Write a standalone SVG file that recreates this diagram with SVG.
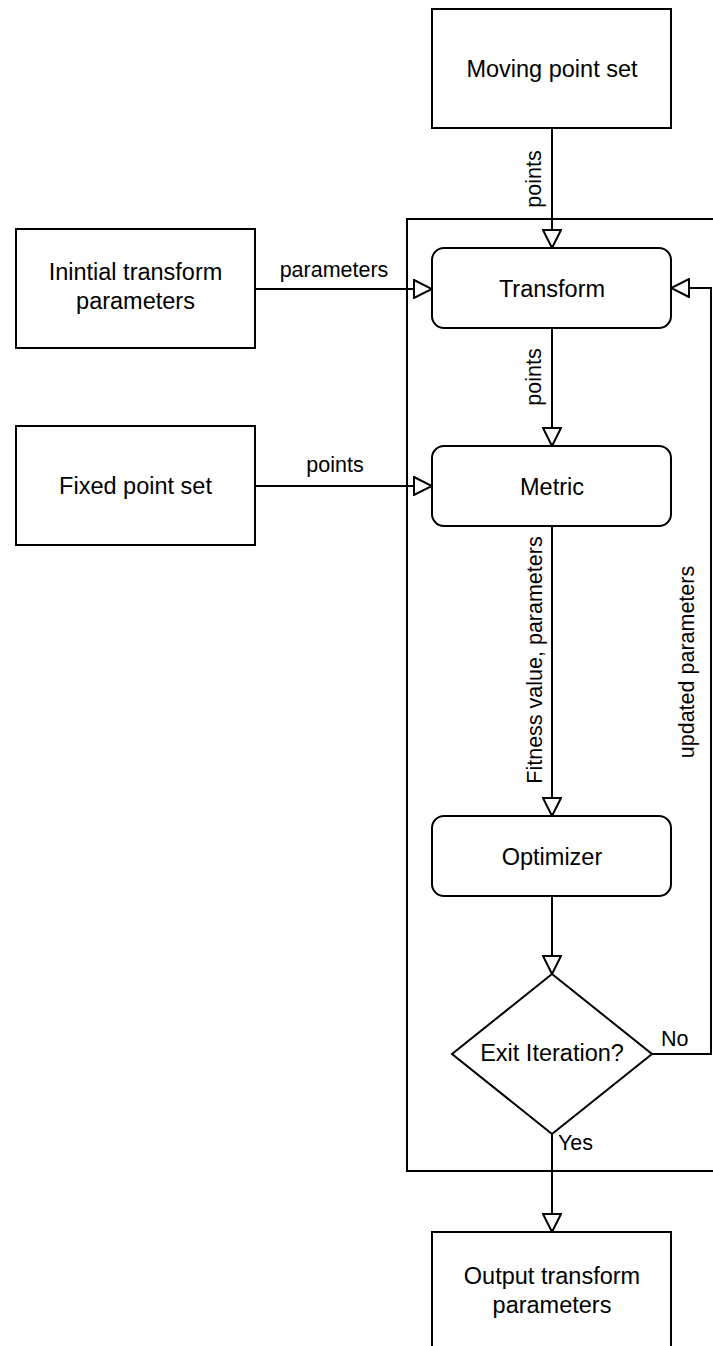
<svg xmlns="http://www.w3.org/2000/svg" width="713" height="1346" viewBox="0 0 713 1346">
<style>
.box{fill:#fff;stroke:#000;stroke-width:2}
.frame{fill:none;stroke:#000;stroke-width:2}
.edge{fill:none;stroke:#000;stroke-width:2;marker-end:url(#arr)}
text{font-family:"Liberation Sans",Arial,sans-serif;font-size:21.5px;fill:#000}
.n{font-size:23.5px}
.c{text-anchor:middle}
</style>
<defs>
<marker id="arr" viewBox="0 0 20 20" refX="19" refY="10" markerWidth="20" markerHeight="20" orient="auto" markerUnits="userSpaceOnUse">
<path d="M1,1 L19,10 L1,19 Z" fill="#fff" stroke="#000" stroke-width="2"/>
</marker>
</defs>
<rect id="loop-frame" class="frame" x="407" y="219" width="330" height="952"/>
<g id="connectors">
<path class="edge" d="M552,128 V248"/>
<path class="edge" d="M255,289 H432"/>
<path class="edge" d="M255,486 H432"/>
<path class="edge" d="M552,328 V446"/>
<path class="edge" d="M552,526 V816"/>
<path class="edge" d="M552,896 V974"/>
<path class="edge" d="M552,1134 V1232"/>
<path class="edge" d="M652,1054 H711 V288 H671"/>
<text class="c" transform="rotate(-90 541 179)" x="541" y="179">points</text>
<text class="c" x="334" y="277">parameters</text>
<text class="c" x="335" y="472">points</text>
<text class="c" transform="rotate(-90 541 377)" x="541" y="377">points</text>
<text class="c" transform="rotate(-90 542 660)" x="542" y="660">Fitness value, parameters</text>
<text class="c" transform="rotate(-90 694 662)" x="694" y="662">updated parameters</text>
<text x="661" y="1046">No</text>
<text x="558" y="1150">Yes</text>
</g>
<g id="moving">
<rect class="box" x="432" y="9" width="239" height="119"/>
<text class="c n" x="552" y="76.5">Moving point set</text>
</g>
<g id="initial">
<rect class="box" x="16" y="229" width="239" height="119"/>
<text class="c n" x="135.5" y="280">Inintial transform</text>
<text class="c n" x="135.5" y="309">parameters</text>
</g>
<g id="fixed">
<rect class="box" x="16" y="426" width="239" height="119"/>
<text class="c n" x="135.5" y="494">Fixed point set</text>
</g>
<g id="transform">
<rect class="box" x="432" y="248" width="239" height="80" rx="12"/>
<text class="c n" x="552" y="296.5">Transform</text>
</g>
<g id="metric">
<rect class="box" x="432" y="446" width="239" height="80" rx="12"/>
<text class="c n" x="552" y="494.5">Metric</text>
</g>
<g id="optimizer">
<rect class="box" x="432" y="816" width="239" height="80" rx="12"/>
<text class="c n" x="552" y="864.5">Optimizer</text>
</g>
<g id="exit">
<polygon class="box" points="552,974 652,1054 552,1134 452,1054"/>
<text class="c n" x="552" y="1061">Exit Iteration?</text>
</g>
<g id="output">
<rect class="box" x="432" y="1232" width="239" height="120"/>
<text class="c n" x="552" y="1284">Output transform</text>
<text class="c n" x="552" y="1313">parameters</text>
</g>
</svg>
